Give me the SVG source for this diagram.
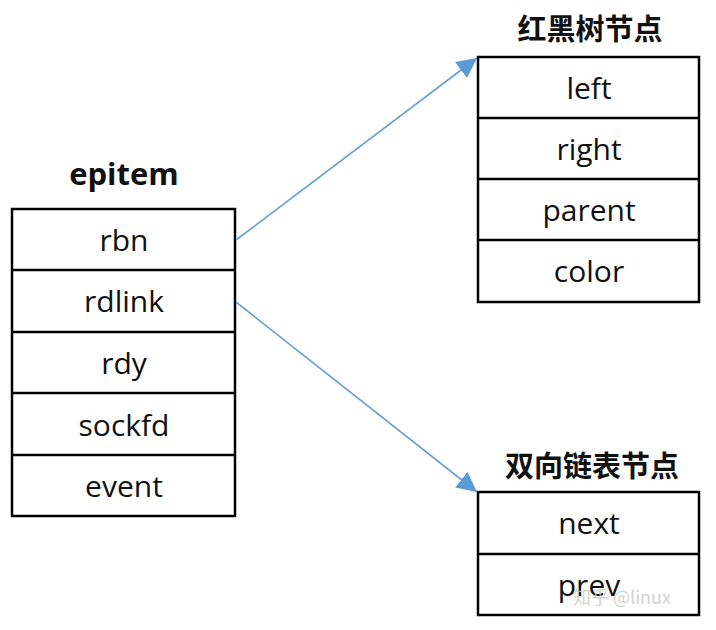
<svg xmlns="http://www.w3.org/2000/svg" width="716" height="630" viewBox="0 0 716 630">
<style>
.box{fill:#fff;stroke:#000;stroke-width:2.5}
.t{font-family:"Open Sans","Noto Sans",sans-serif;font-size:30px;fill:#111;text-anchor:middle}
.h{font-family:"Open Sans","Noto Sans CJK SC",sans-serif;font-size:31px;font-weight:bold;fill:#111;text-anchor:middle}
.hc{font-family:"Noto Sans CJK SC",sans-serif;font-size:29px;font-weight:600;fill:#111;text-anchor:middle}
.c{stroke:#6a9fd0;stroke-width:1.6;fill:none}
</style>
<defs>
<marker id="ah" viewBox="0 0 10 10" refX="10" refY="5" markerWidth="20" markerHeight="20" markerUnits="userSpaceOnUse" orient="auto">
<path d="M0,0 L10,5 L0,10 z" fill="#5b9bd5"/>
</marker>
</defs>
<rect width="716" height="630" fill="#fff"/>
<g id="epitem">
<text class="h" x="124" y="185">epitem</text>
<rect class="box" x="12" y="209" width="223" height="307"/>
<line class="box" x1="12" y1="270" x2="235" y2="270"/>
<line class="box" x1="12" y1="332" x2="235" y2="332"/>
<line class="box" x1="12" y1="393" x2="235" y2="393"/>
<line class="box" x1="12" y1="455" x2="235" y2="455"/>
<text class="t" x="124" y="251">rbn</text>
<text class="t" x="124" y="312">rdlink</text>
<text class="t" x="124" y="374">rdy</text>
<text class="t" x="124" y="436">sockfd</text>
<text class="t" x="124" y="497">event</text>
</g>
<g id="rbnode">
<text class="hc" x="590" y="40">红黑树节点</text>
<rect class="box" x="478" y="57" width="221" height="245"/>
<line class="box" x1="478" y1="118" x2="699" y2="118"/>
<line class="box" x1="478" y1="179" x2="699" y2="179"/>
<line class="box" x1="478" y1="240" x2="699" y2="240"/>
<text class="t" x="589" y="99">left</text>
<text class="t" x="589" y="160">right</text>
<text class="t" x="589" y="221">parent</text>
<text class="t" x="589" y="282">color</text>
</g>
<g id="listnode">
<text class="hc" x="592" y="477">双向链表节点</text>
<rect class="box" x="478" y="492" width="221" height="123"/>
<line class="box" x1="478" y1="554" x2="699" y2="554"/>
<text class="t" x="589" y="534">next</text>
<text class="t" x="589" y="596">prev</text>
</g>
<g id="connectors">
<line class="c" x1="236" y1="240" x2="477" y2="58" marker-end="url(#ah)"/>
<line class="c" x1="236" y1="302" x2="477" y2="492" marker-end="url(#ah)"/>
</g>
<text x="622" y="604" font-family="'Noto Sans CJK SC',sans-serif" font-size="18" fill="#c8c8c8" text-anchor="middle" opacity="0.8">知乎 @linux</text>
</svg>
